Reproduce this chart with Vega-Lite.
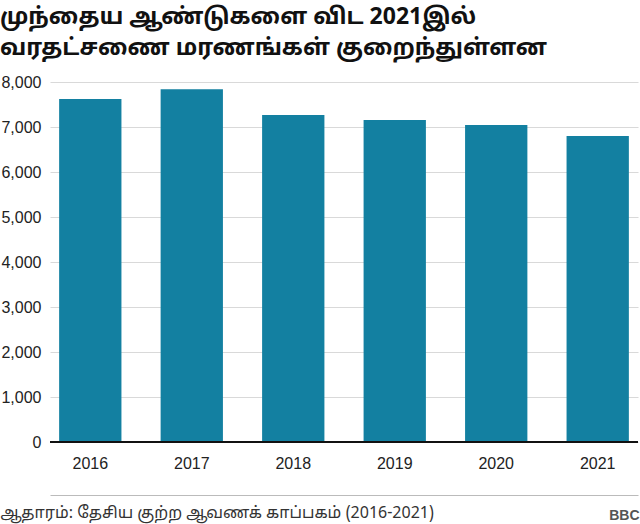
{
  "$schema": "https://vega.github.io/schema/vega-lite/v6.json",
  "width": 588,
  "height": 360,
  "autosize": {"type": "none"},
  "padding": {"left": 50, "top": 82, "right": 2, "bottom": 82},
  "background": "white",
  "title": {
    "text": ["முந்தைய ஆண்டுகளை விட 2021இல்", "வரதட்சணை மரணங்கள் குறைந்துள்ளன"],
    "anchor": "start",
    "frame": "group",
    "orient": "top",
    "baseline": "top",
    "dx": -50,
    "offset": 14,
    "font": "Noto Sans Tamil, Noto Sans, Liberation Sans, sans-serif",
    "fontSize": 23,
    "fontWeight": "bold",
    "lineHeight": 31,
    "color": "#111111"
  },
  "data": {
    "values": [
      {"year": "2016", "deaths": 7622},
      {"year": "2017", "deaths": 7838},
      {"year": "2018", "deaths": 7267},
      {"year": "2019", "deaths": 7156},
      {"year": "2020", "deaths": 7044},
      {"year": "2021", "deaths": 6800}
    ]
  },
  "layer": [
    {
      "mark": {"type": "bar", "color": "#1380A1"},
      "encoding": {
        "x": {
          "field": "year",
          "type": "nominal",
          "scale": {"paddingInner": 0.386, "paddingOuter": 0.09},
          "axis": {
            "title": "ஆதாரம்: தேசிய குற்ற ஆவணக் காப்பகம் (2016-2021)",
            "titleX": -50,
            "titleY": 22,
            "titleAnchor": "start",
            "titleAlign": "left",
            "titleBaseline": "alphabetic",
            "titleFont": "Noto Sans Tamil, Noto Sans, Liberation Sans, sans-serif",
            "titleFontSize": 16,
            "titleFontWeight": "normal",
            "titleColor": "#333333",
            "offset": 53,
            "domainColor": "#bbbbbb",
            "domainWidth": 1,
            "ticks": false,
            "labelAngle": 0,
            "labelPadding": -40,
            "labelBaseline": "top",
            "labelFont": "Liberation Sans",
            "labelFontSize": 16,
            "labelColor": "#222222"
          }
        },
        "y": {
          "field": "deaths",
          "type": "quantitative",
          "scale": {"domain": [0, 8000]},
          "axis": {
            "title": "BBC",
            "titleAngle": 0,
            "titleX": 589,
            "titleY": 437,
            "titleAlign": "right",
            "titleBaseline": "alphabetic",
            "titleFont": "Liberation Sans",
            "titleFontSize": 14,
            "titleFontWeight": "bold",
            "titleColor": "#555555",
            "values": [0, 1000, 2000, 3000, 4000, 5000, 6000, 7000, 8000],
            "format": ",d",
            "domain": false,
            "ticks": false,
            "labelPadding": 9,
            "labelFont": "Liberation Sans",
            "labelFontSize": 16,
            "labelColor": "#222222",
            "gridColor": "#d9d9d9",
            "gridWidth": 1
          }
        }
      }
    },
    {
      "mark": {"type": "rule", "color": "#111111", "strokeWidth": 2},
      "encoding": {"y": {"datum": 0}}
    }
  ],
  "config": {
    "view": {"stroke": null}
  }
}
